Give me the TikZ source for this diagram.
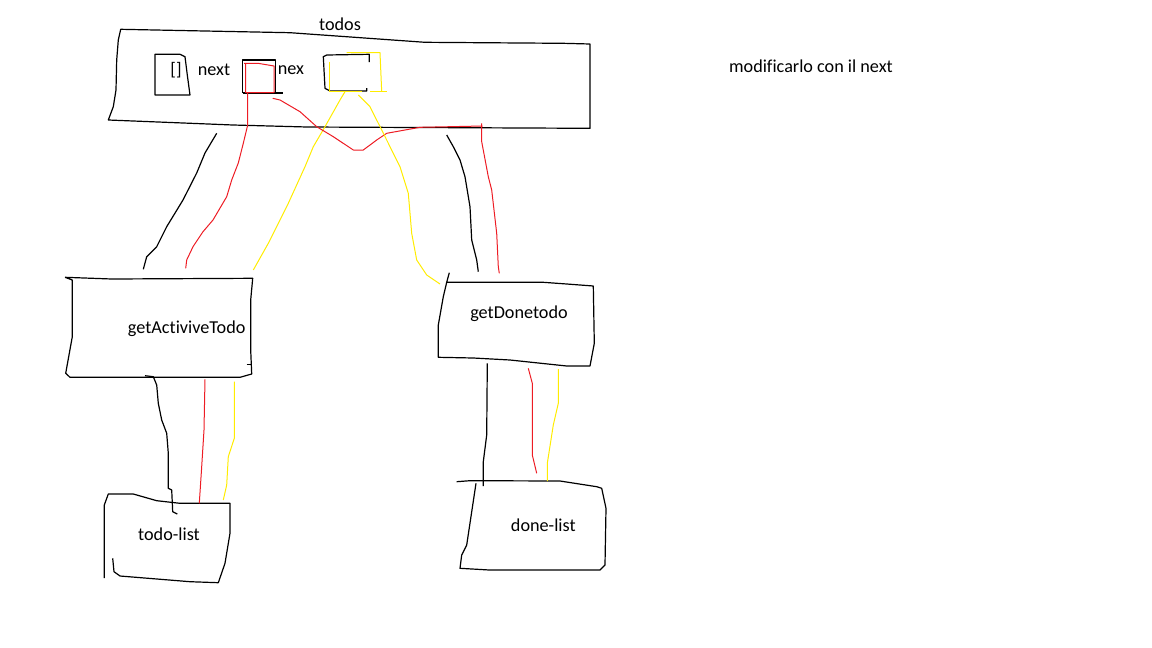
\documentclass[tikz,border=0pt]{standalone}
\usepackage{fontspec}
\setmainfont{Carlito}[Ligatures=NoCommon]
\definecolor{pred}{RGB}{237,28,36}
\definecolor{pyellow}{RGB}{255,236,0}
\tikzset{
  lbl/.style={inner sep=0pt, font=\fontsize{18.2}{21}\selectfont},
  pen/.style={line width=1.2pt, line join=round},
  rpen/.style={pred, line width=1pt, line join=round},
  ypen/.style={pyellow, line width=1pt, line join=round}
}
\begin{document}
\begin{tikzpicture}[x=1pt,y=-1pt]
    \useasboundingbox (0,0) rectangle (1152,648);
    % top box
    \draw[pen] (120.7,29.3) -- (190,30.7) -- (290,32.7) -- (425,42.3) -- (563,43.3) -- (590,44) -- (590,128.3) -- (307,127) -- (233,125) -- (108.3,120) -- (113.3,106.7) -- (116,90) -- (116.7,60) -- (118.3,40) -- cycle;
    \node[lbl] (todos) at (340,24) {todos};
    \draw[pen] (155,54.3) -- (180,54.3) -- (185,56.7) -- (187.3,75) -- (190,95) -- (155,95) -- cycle;
    \node[lbl] (arr) at (176,70) {[]};
    \node[lbl] (nxt) at (214,70) {next};
    \draw[pen] (242.7,93) -- (242.7,60) -- (275.7,60) -- (275.7,93);
    \draw[pen] (242.7,93) -- (282.7,93);
    \node[lbl] (nx) at (291,70) {nex};
    \draw[pen] (369.3,62) -- (369.3,54.3) -- (326.7,55) -- (323.3,56.7) -- (325,88.3) -- (330,91) -- (366.7,91) -- (366.7,88);
    % red and yellow marks in the top box
    \draw[rpen] (244,63.3) -- (258,63.3) -- (274,66) -- (274,92.7) -- (245.7,92.7) -- (245.7,63);
    \draw[ypen] (329.3,61.7) -- (329.3,91.7) -- (361.7,91.7);
    \draw[ypen] (346.7,52.7) -- (380,52.7) -- (381.7,91.7);
    \draw[ypen] (370,91.7) -- (386.7,91.7);
    \node[lbl] (note) at (811,66) {modificarlo con il next};
    % middle boxes
    \draw[pen] (65,277.3) -- (111.7,279) -- (252.7,278.3) -- (250.7,300) -- (250.7,350) -- (251.7,374) -- (240,377.3) -- (70,377.3) -- (65.7,373.3) -- (72.3,336.7) -- (72.3,280) -- (65,277.3);
    \draw[pen] (246.7,364.3) -- (252,364.3);
    \node[lbl] (active) at (186.7,329) {getActiviveTodo};
    \draw[pen] (449.3,272.7) -- (446.7,282.3) -- (543.3,282.3) -- (566.7,284) -- (593.3,286) -- (594.3,343.3) -- (590,366) -- (566.7,366) -- (510,360) -- (473.3,358) -- (438.3,357.3) -- (438.3,325) -- (443.3,296.7) -- (446.7,282.3);
    \node[lbl] (done) at (519,314) {getDonetodo};
    % bottom boxes
    \draw[pen] (104.3,578) -- (104.3,505) -- (108.3,494) -- (133.3,494) -- (156.7,500.7) -- (180,503.3) -- (230,503.3) -- (230,533.3) -- (225,563.3) -- (218.3,582.7) -- (190,581.7) -- (120,576) -- (114,571.7) -- (112.7,558.3);
    \node[lbl] (todolist) at (169,534.7) {todo-list};
    \draw[pen] (456.7,481.7) -- (470,480.7) -- (560,481) -- (596.7,486.7) -- (601.7,488.3) -- (606,508.3) -- (605,565) -- (600,570) -- (489.3,570) -- (460,568.3) -- (461.7,555) -- (466.7,545) -- (476,483.3);
    \node[lbl] (donelist) at (543.3,525.7) {done-list};
    % links top -> middle
    \draw[pen] (216.7,133.3) -- (205,153) -- (196.7,173) -- (183,200) -- (166.7,226.7) -- (156.7,246.7) -- (146.7,256.7) -- (143.3,269.3);
    \draw[rpen] (247.7,92.7) -- (247.7,125) -- (243.3,143.3) -- (238.3,163) -- (231.7,180) -- (226.7,196.7) -- (213,220) -- (203,231.7) -- (193,246.7) -- (186.7,260) -- (185.7,268.3);
    \draw[ypen] (345,91.7) -- (340,100) -- (325,126.7) -- (313.3,146.7) -- (305,166.7) -- (288.3,203.3) -- (268.3,243.3) -- (253.3,270);
    \draw[rpen] (272.7,98.3) -- (280,100) -- (300,111.7) -- (316.7,126.7) -- (333.3,136.7) -- (353.3,150) -- (363.3,150) -- (376.7,140) -- (386.7,133.3) -- (420,127.3) -- (450,126.7) -- (482.7,126);
    \draw[rpen] (481.7,123.3) -- (481.7,141.7) -- (488.3,176.7) -- (491.7,190) -- (496.7,233.3) -- (498.3,266.7) -- (499.3,273.3);
    \draw[pen] (446.7,135) -- (453.3,146.7) -- (460,160) -- (465,176.7) -- (470,206.7) -- (471.7,240) -- (476.7,260) -- (478.3,271.7);
    \draw[ypen] (358.3,95) -- (370,106.7) -- (381.7,130) -- (400,166.7) -- (408.3,193.3) -- (411.7,233.3) -- (416.7,260) -- (426.7,275) -- (440,284);
    % links middle -> bottom
    \draw[pen] (145,375.7) -- (153.3,376.7) -- (156.7,385) -- (158.3,403.3) -- (161.7,420) -- (166.7,433.3) -- (168.3,453.3) -- (168.3,488.3) -- (171.7,490) -- (172.7,511.7) -- (177.3,514);
    \draw[rpen] (205,379.3) -- (204,430) -- (201.7,466.7) -- (199.3,503.3);
    \draw[ypen] (234.3,381.7) -- (234.3,438.3) -- (228.3,456.7) -- (226.7,485) -- (223.3,500);
    \draw[pen] (487.3,363.3) -- (486.7,435) -- (483.3,461.7) -- (483.3,486);
    \draw[rpen] (528.3,368.3) -- (532.3,383.3) -- (532.3,455) -- (536.7,473.3);
    \draw[ypen] (558.3,369) -- (558.3,403.3) -- (553.3,425) -- (547.3,463.3) -- (547.3,481);
\end{tikzpicture}
\end{document}
